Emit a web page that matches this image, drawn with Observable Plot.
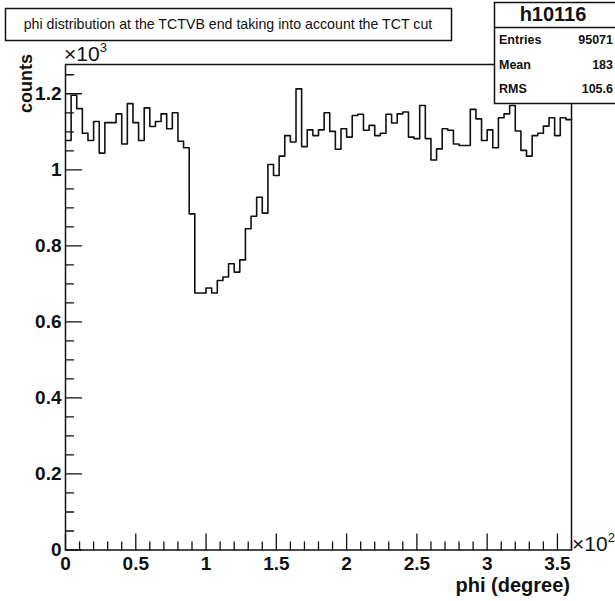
<!DOCTYPE html>
<html><head><meta charset="utf-8">
<script src="https://cdn.jsdelivr.net/npm/d3@7"></script>
<script src="https://cdn.jsdelivr.net/npm/@observablehq/plot@0.6"></script>
<style>
body{margin:0;background:#fff}
svg{display:block}
</style>
</head><body><div id="chart"></div>
<script>
// ---- data (counts per 4-degree bin, 90 bins from 0 to 360 degrees) ----
const binWidth = 4;
const counts = [
  1077,1196,1161,1096,1077,1127,1044,1124,1124,1147,1068,1174,1124,1077,1163,1114,1127,1147,
  1108,1150,1075,1058,884,676,676,689,676,709,718,753,731,763,845,878,928,886,
  1014,985,1036,1090,1073,1213,1061,1105,1090,1105,1150,1101,1054,1108,1086,1143,1146,1104,1117,
  1090,1096,1146,1123,1147,1152,1086,1082,1169,1082,1026,1055,1108,1104,1068,1064,1064,1159,
  1134,1077,1105,1058,1137,1147,1169,1102,1051,1036,1090,1096,1115,1137,1090,1137,1132
];
const xMajor = [0, 50, 100, 150, 200, 250, 300, 350];
const xLabels = ["0", "0.5", "1", "1.5", "2", "2.5", "3", "3.5"];
const xMinor = d3.range(0, 361, 10).filter(v => v % 50 !== 0);
const yMajor = [0, 200, 400, 600, 800, 1000, 1200];
const yLabels = ["0", "0.2", "0.4", "0.6", "0.8", "1", "1.2"];
const yMinor = d3.range(0, 1276, 50).filter(v => v % 200 !== 0);
const histTitle = "phi distribution at the TCTVB end taking into account the TCT cut";
const statsName = "h10116";
const statsRows = [["Entries", "95071"], ["Mean", "183"], ["RMS", "105.6"]];

// step outline points: left edge of each bin, plus the final right edge
const steps = counts.map((c, i) => ({x: i * binWidth, y: c}));
steps.push({x: counts.length * binWidth, y: counts[counts.length - 1]});

const FONT = "'Liberation Sans', Arial, Helvetica, sans-serif";
const INK = "#111";
const tickShape = {draw(context, l) { context.moveTo(0, 0); context.lineTo(0, -l); }};

const chart = Plot.plot({
  width: 615, height: 601,
  marginLeft: 65, marginRight: 44, marginTop: 64, marginBottom: 51.5,
  x: {domain: [0, 360], axis: null},
  y: {domain: [0, 1277], axis: null},
  style: {background: "#fff", fontFamily: FONT, color: INK},
  marks: [
    Plot.line(steps, {x: "x", y: "y", curve: "step-after", stroke: INK, strokeWidth: 1.6}),
    Plot.vector(yMinor, {x: () => 0, y: d => d, length: 8, rotate: 90, anchor: "start", shape: tickShape, stroke: INK, strokeWidth: 1.3}),
    Plot.vector(yMajor, {x: () => 0, y: d => d, length: 16, rotate: 90, anchor: "start", shape: tickShape, stroke: INK, strokeWidth: 1.3}),
    Plot.vector(xMinor, {x: d => d, y: () => 0, length: 8, rotate: 0, anchor: "start", shape: tickShape, stroke: INK, strokeWidth: 1.3}),
    Plot.vector(xMajor, {x: d => d, y: () => 0, length: 16, rotate: 0, anchor: "start", shape: tickShape, stroke: INK, strokeWidth: 1.3}),
    Plot.text(yMajor, {x: () => 0, y: d => d, text: (d, i) => yLabels[i], textAnchor: "end", dx: -4, fontSize: 19, fontWeight: "bold", fill: INK}),
    Plot.text(xMajor, {x: d => d, y: () => 0, text: (d, i) => xLabels[i], dy: 14, fontSize: 19, fontWeight: "bold", fill: INK}),
    Plot.frame({stroke: INK, strokeWidth: 1.5})
  ]
});
document.getElementById("chart").appendChild(chart);

// ---- annotations: axis titles, exponents, title box, stats box ----
const svg = d3.select(chart);
const g = svg.append("g").attr("font-family", FONT).attr("fill", INK).attr("text-anchor", "start");

g.append("text").attr("transform", "translate(32,54) rotate(-90)")
  .attr("text-anchor", "end").attr("font-size", 18).attr("font-weight", "bold").text("counts");
g.append("text").attr("x", 570).attr("y", 592)
  .attr("text-anchor", "end").attr("font-size", 20).attr("font-weight", "bold").text("phi (degree)");

const e1 = g.append("text").attr("x", 64).attr("y", 61).attr("font-size", 21).attr("text-anchor", "start");
e1.append("tspan").text("×10");
e1.append("tspan").attr("font-size", 13).attr("dy", -9).text("3");
const e2 = g.append("text").attr("x", 572).attr("y", 551).attr("font-size", 21).attr("text-anchor", "start");
e2.append("tspan").text("×10");
e2.append("tspan").attr("font-size", 13).attr("dy", -9).text("2");

// title box
g.append("rect").attr("x", 5.5).attr("y", 8.5).attr("width", 446).attr("height", 32)
  .attr("fill", "#fff").attr("stroke", INK).attr("stroke-width", 1.5);
g.append("text").attr("x", 228).attr("y", 25).attr("dominant-baseline", "middle")
  .attr("text-anchor", "middle").attr("font-size", 14.2).text(histTitle);

// stats box
g.append("rect").attr("x", 494.5).attr("y", 2.5).attr("width", 140).attr("height", 101)
  .attr("fill", "#fff").attr("stroke", INK).attr("stroke-width", 1.5);
g.append("line").attr("x1", 494.5).attr("x2", 615).attr("y1", 27.5).attr("y2", 27.5)
  .attr("stroke", INK).attr("stroke-width", 1.5);
g.append("text").attr("x", 553).attr("y", 15.5).attr("dominant-baseline", "middle")
  .attr("text-anchor", "middle").attr("font-size", 20).attr("font-weight", "bold").text(statsName);
statsRows.forEach(([k, v], i) => {
  const y = 41 + i * 24.5;
  g.append("text").attr("x", 499).attr("y", y).attr("dominant-baseline", "middle")
    .attr("text-anchor", "start").attr("font-size", 12.5).attr("font-weight", "bold").text(k);
  g.append("text").attr("x", 613).attr("y", y).attr("dominant-baseline", "middle")
    .attr("text-anchor", "end").attr("font-size", 12.5).attr("font-weight", "bold").text(v);
});
</script>
</body></html>
